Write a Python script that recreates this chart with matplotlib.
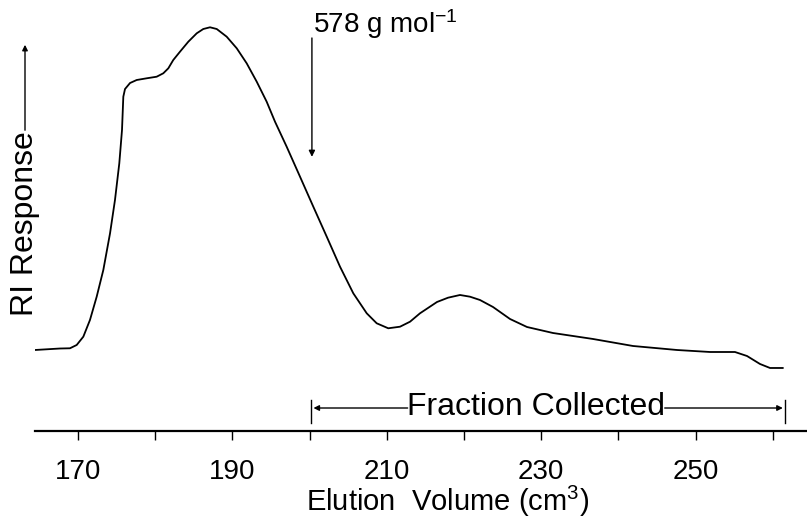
import matplotlib
matplotlib.use("Agg")
import matplotlib.pyplot as plt
from matplotlib import font_manager
from matplotlib.patches import FancyArrowPatch

# ---------------- data ----------------
elution_volume = [164.43, 167.67, 168.96, 169.83, 170.69, 171.55, 172.42, 173.28, 174.15, 174.79,
                  175.35, 175.70, 175.87, 176.09, 176.74, 177.60, 178.90, 180.19, 181.05, 181.70,
                  182.34, 183.21, 184.29, 185.38, 186.23, 187.10, 187.97, 189.26, 190.56, 191.85,
                  193.15, 194.44, 195.52, 197.03, 198.76, 200.48, 202.22, 203.94, 205.66, 207.40,
                  208.69, 210.19, 211.71, 213.01, 214.30, 216.50, 217.93, 219.48, 220.78, 222.07,
                  223.76, 225.96, 228.16, 231.53, 236.71, 241.89, 247.59, 251.87, 255.10, 256.66,
                  258.34, 259.64, 261.32]
ri_response = [0.00, 0.46, 0.53, 1.55, 4.12, 9.29, 16.50, 24.77, 36.13, 46.44,
               57.80, 68.11, 78.42, 80.80, 82.66, 83.59, 84.12, 84.61, 85.67, 87.21,
               89.78, 92.35, 95.45, 98.05, 99.38, 99.91, 99.38, 97.00, 93.41, 88.76,
               83.07, 76.87, 70.68, 62.94, 53.65, 44.37, 35.08, 25.79, 17.55, 11.36,
               8.27, 6.72, 7.21, 8.76, 11.36, 14.86, 16.19, 17.03, 16.50, 15.48,
               13.31, 9.60, 7.12, 5.26, 3.41, 1.24, 0.00, -0.62, -0.62, -1.86,
               -4.33, -5.57, -5.57]

major_ticks = [170, 190, 210, 230, 250]
major_labels = ["170", "190", "210", "230", "250"]
minor_ticks = [180, 200, 220, 240, 260]

marker_volume = 200.3          # 578 g mol-1 marker
marker_label = "578 g mol$^{-1}$"
fraction_start = 200.2
fraction_end = 261.6
fraction_label = "Fraction Collected"
x_label = "Elution  Volume (cm$^3$)"
y_label = "RI Response"

# ---------------- fonts ----------------
avail = {f.name for f in font_manager.fontManager.ttflist}
main_font = "Liberation Sans Narrow" if "Liberation Sans Narrow" in avail else "Liberation Sans"
plt.rcParams["font.family"] = [main_font, "DejaVu Sans"]
plt.rcParams["mathtext.fontset"] = "custom"
plt.rcParams["mathtext.rm"] = main_font
plt.rcParams["mathtext.it"] = main_font
plt.rcParams["mathtext.bf"] = main_font
plt.rcParams["mathtext.default"] = "regular"

W, H = 807, 522
fig = plt.figure(figsize=(W / 100, H / 100), dpi=100)
ax = fig.add_axes([35 / W, (H - 431) / H, 1 - 35 / W, 431 / H])

ax.plot(elution_volume, ri_response, color="black", lw=1.3,
        solid_joinstyle="round", solid_capstyle="round")

ax.set_xlim(164.43, 264.43)
ax.set_ylim(-25.08, 108.36)

for s in ["left", "top", "right"]:
    ax.spines[s].set_visible(False)
ax.spines["bottom"].set_linewidth(1.6)
ax.set_yticks([])

ax.set_xticks(major_ticks)
ax.set_xticklabels(major_labels)
ax.set_xticks(minor_ticks, minor=True)
ax.tick_params(axis="x", which="both", direction="out", length=6.5, width=1.0)
ax.tick_params(axis="x", which="major", labelsize=20, pad=14)

ax.set_xlabel(x_label, fontsize=21, va="baseline")
ax.xaxis.set_label_coords((448 - 35) / 772, -0.186)

# 578 g/mol marker arrow
ax.annotate("", xy=(marker_volume, 59.8), xytext=(marker_volume, 96.6),
            arrowprops=dict(arrowstyle="-|>", lw=1.0, color="black",
                            mutation_scale=9, shrinkA=0, shrinkB=0))
ax.text(marker_volume + 0.1, 98.1, marker_label, fontsize=20, ha="left", va="baseline")

# Fraction collected
yb = -17.96
ax.plot([fraction_start, fraction_start], [-15.5, -22.6], color="black", lw=1.0)
ax.plot([fraction_end, fraction_end], [-15.5, -22.6], color="black", lw=1.0)
ax.annotate("", xy=(fraction_start + 0.3, yb), xytext=(212.7, yb),
            arrowprops=dict(arrowstyle="-|>", lw=1.0, color="black",
                            mutation_scale=8, shrinkA=0, shrinkB=0))
ax.annotate("", xy=(fraction_end - 0.3, yb), xytext=(246.0, yb),
            arrowprops=dict(arrowstyle="-|>", lw=1.0, color="black",
                            mutation_scale=8, shrinkA=0, shrinkB=0))
ax.text(229.3, -20.1, fraction_label, fontsize=23, ha="center", va="baseline")

# RI Response label with upward arrow
fig.text(25 / W, 1 - 224 / H, y_label, rotation=90, fontsize=23,
         ha="center", va="center")
fig.add_artist(FancyArrowPatch(
    (25 / W, 1 - 133 / H), (25 / W, 1 - 42 / H), transform=fig.transFigure,
    arrowstyle="-|>", mutation_scale=8, lw=1.0, color="black"))

fig.savefig("out.png", dpi=100)
